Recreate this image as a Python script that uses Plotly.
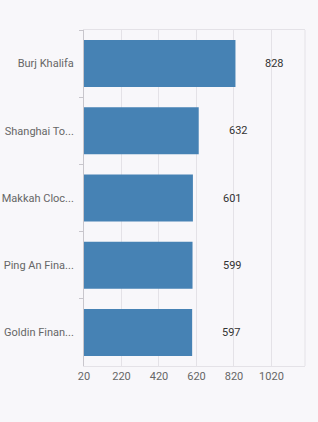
import plotly.graph_objects as go

categories = ["Burj Khalifa", "Shanghai To...", "Makkah Cloc...", "Ping An Fina...", "Goldin Finan..."]
heights = [828, 632, 601, 599, 597]
x_ticks = [20, 220, 420, 620, 820, 1020]

bg = "#f8f7fa"
bar_color = "#4682b4"

fig = go.Figure()
fig.add_trace(go.Bar(
    x=[h - 20 for h in heights], y=categories, orientation="h", base=20,
    marker=dict(color=bar_color, line=dict(width=0)),
    width=0.7, hoverinfo="skip",
))

for c, h in zip(categories, heights):
    fig.add_annotation(x=h, y=c, text=str(h), showarrow=False,
                       xanchor="left", xshift=28,
                       font=dict(family="Roboto", size=11, color="#333333"))

fig.add_shape(type="line", xref="paper", yref="paper", x0=1, x1=1, y0=0, y1=1,
              line=dict(color="#e4e2e7", width=1), layer="below")

fig.update_layout(
    width=318, height=422,
    margin=dict(l=84, r=13, t=30, b=56),
    paper_bgcolor=bg, plot_bgcolor=bg,
    showlegend=False,
    font=dict(family="Roboto", size=11, color="#666666"),
    xaxis=dict(range=[20, 1199], tickvals=x_ticks, ticktext=[str(v) for v in x_ticks],
               showgrid=True, gridcolor="#e4e2e7", gridwidth=1,
               showline=True, linecolor="#e4e2e7", mirror=True,
               zeroline=False, ticks="", fixedrange=True, automargin=False,
               tickfont=dict(size=11, color="#666666")),
    yaxis=dict(categoryorder="array", categoryarray=categories, autorange="reversed",
               showgrid=False, showline=True, linecolor="#c8c6cc",
               ticks="outside", ticklen=4, tickcolor="#c8c6cc", tickson="boundaries",
               ticklabelstandoff=7, zeroline=False, automargin=False,
               tickfont=dict(size=11, color="#666666")),
)

fig.write_html("out.html")
